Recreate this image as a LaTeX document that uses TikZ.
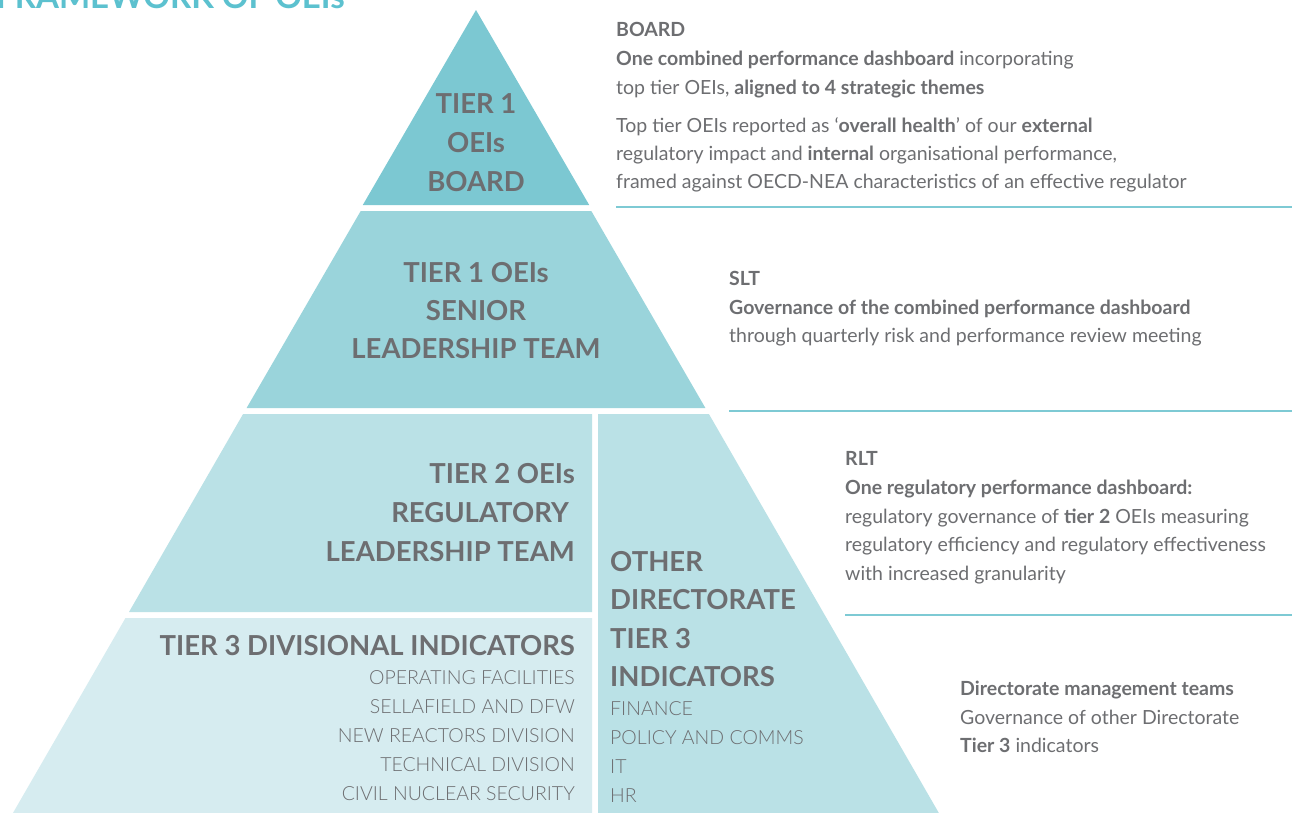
\documentclass[tikz,border=0pt]{standalone}
\usepackage{fontspec}
\setmainfont{Lato}
\newfontfamily\latolight{Lato Light}
\definecolor{cA}{HTML}{7CC8D2}
\definecolor{cB}{HTML}{9AD4DB}
\definecolor{cC}{HTML}{BAE1E6}
\definecolor{cD}{HTML}{D6ECF0}
\definecolor{txt}{HTML}{6D6E71}
\definecolor{ttl}{HTML}{5CC1CF}
\definecolor{rule}{HTML}{7ECAD4}
\tikzset{
  hd/.style={font=\fontsize{27.5}{30}\selectfont\bfseries, text=txt, inner sep=0pt},
  sub/.style={font=\fontsize{19.5}{22}\selectfont\latolight, text=txt, inner sep=0pt},
  body/.style={font=\fontsize{19.5}{22}\selectfont, text=txt, inner sep=0pt, anchor=base west},
  sep/.style={draw=rule, line width=1.3pt},
}
\begin{document}
\begin{tikzpicture}[x=1pt,y=-1pt]
\useasboundingbox (0,0) rectangle (1292,812);
\clip (0,0) rectangle (1292,812);
\fill[white] (0,0) rectangle (1292,812);
% title
\node[font=\fontsize{33}{36}\selectfont\bfseries, text=ttl, inner sep=0pt, anchor=base west] (title) at (-4,8) {FRAMEWORK OF OEIs};
% pyramid
\fill[cA] (476,10) -- (589.2,205) -- (362.8,205) -- cycle;
\fill[cB] (360.7,211) -- (591.3,211) -- (705.4,408) -- (246.6,408) -- cycle;
\fill[cC] (243.1,414) -- (592,414) -- (592,612) -- (129,612) -- cycle;
\fill[cC] (598,414) -- (708.9,414) -- (940,815) -- (598,815) -- cycle;
\fill[cD] (125.5,618) -- (592,618) -- (592,815) -- (11.8,815) -- cycle;
% tier 1 board
\node[hd, anchor=base] (t1a) at (476,113) {TIER 1};
\node[hd, anchor=base] (t1b) at (476,152) {OEIs};
\node[hd, anchor=base] (t1c) at (476,191) {BOARD};
% SLT
\node[hd, anchor=base] (t2a) at (476,282) {TIER 1 OEIs};
\node[hd, anchor=base] (t2b) at (476,320) {SENIOR};
\node[hd, anchor=base] (t2c) at (476,358) {LEADERSHIP TEAM};
% RLT
\node[hd, anchor=base east] (t3a) at (575,483) {TIER 2 OEIs};
\node[hd, anchor=base east] (t3b) at (569,522) {REGULATORY};
\node[hd, anchor=base east] (t3c) at (575,561) {LEADERSHIP TEAM};
% tier 3 divisional
\node[hd, anchor=base east] (t4) at (575,655) {TIER 3 DIVISIONAL INDICATORS};
\node[sub, anchor=base east] (t4a) at (575,684) {OPERATING FACILITIES};
\node[sub, anchor=base east] (t4b) at (575,713) {SELLAFIELD AND DFW};
\node[sub, anchor=base east] (t4c) at (575,742) {NEW REACTORS DIVISION};
\node[sub, anchor=base east] (t4d) at (575,771) {TECHNICAL DIVISION};
\node[sub, anchor=base east] (t4e) at (575,800) {CIVIL NUCLEAR SECURITY};
% other directorate
\node[hd, anchor=base west] (t5a) at (610,571) {OTHER};
\node[hd, anchor=base west] (t5b) at (610,609) {DIRECTORATE};
\node[hd, anchor=base west] (t5c) at (610,648) {TIER 3};
\node[hd, anchor=base west] (t5d) at (610,686) {INDICATORS};
\node[sub, anchor=base west] (t5e) at (610,715) {FINANCE};
\node[sub, anchor=base west] (t5f) at (610,744) {POLICY AND COMMS};
\node[sub, anchor=base west] (t5g) at (610,773) {IT};
\node[sub, anchor=base west] (t5h) at (610,802) {HR};
% board text
\node[body] (b1) at (616,36) {\bfseries BOARD};
\node[body] (b2) at (616,65) {\textbf{One combined performance dashboard} incorporating};
\node[body] (b3) at (616,94) {top tier OEIs, \textbf{aligned to 4 strategic themes}};
\node[body] (b4) at (616,132) {Top tier OEIs reported as `\textbf{overall health}' of our \textbf{external}};
\node[body] (b5) at (616,160) {regulatory impact and \textbf{internal} organisational performance,};
\node[body] (b6) at (616,188) {framed against OECD-NEA characteristics of an effective regulator};
\draw[sep] (616,207) -- (1292,207);
% SLT text
\node[body] (s1) at (729,285) {\bfseries SLT};
\node[body] (s2) at (729,314) {\bfseries Governance of the combined performance dashboard};
\node[body] (s3) at (729,342) {through quarterly risk and performance review meeting};
\draw[sep] (729,411) -- (1292,411);
% RLT text
\node[body] (r1) at (845,465) {\bfseries RLT};
\node[body] (r2) at (845,494) {\bfseries One regulatory performance dashboard:};
\node[body] (r3) at (845,523) {regulatory governance of \textbf{tier 2} OEIs measuring};
\node[body] (r4) at (845,551) {regulatory efficiency and regulatory effectiveness};
\node[body] (r5) at (845,580) {with increased granularity};
\draw[sep] (845,615) -- (1292,615);
% directorate text
\node[body] (d1) at (960,695) {\bfseries Directorate management teams};
\node[body] (d2) at (960,724) {Governance of other Directorate};
\node[body] (d3) at (960,752) {\textbf{Tier 3} indicators};
\end{tikzpicture}
\end{document}
